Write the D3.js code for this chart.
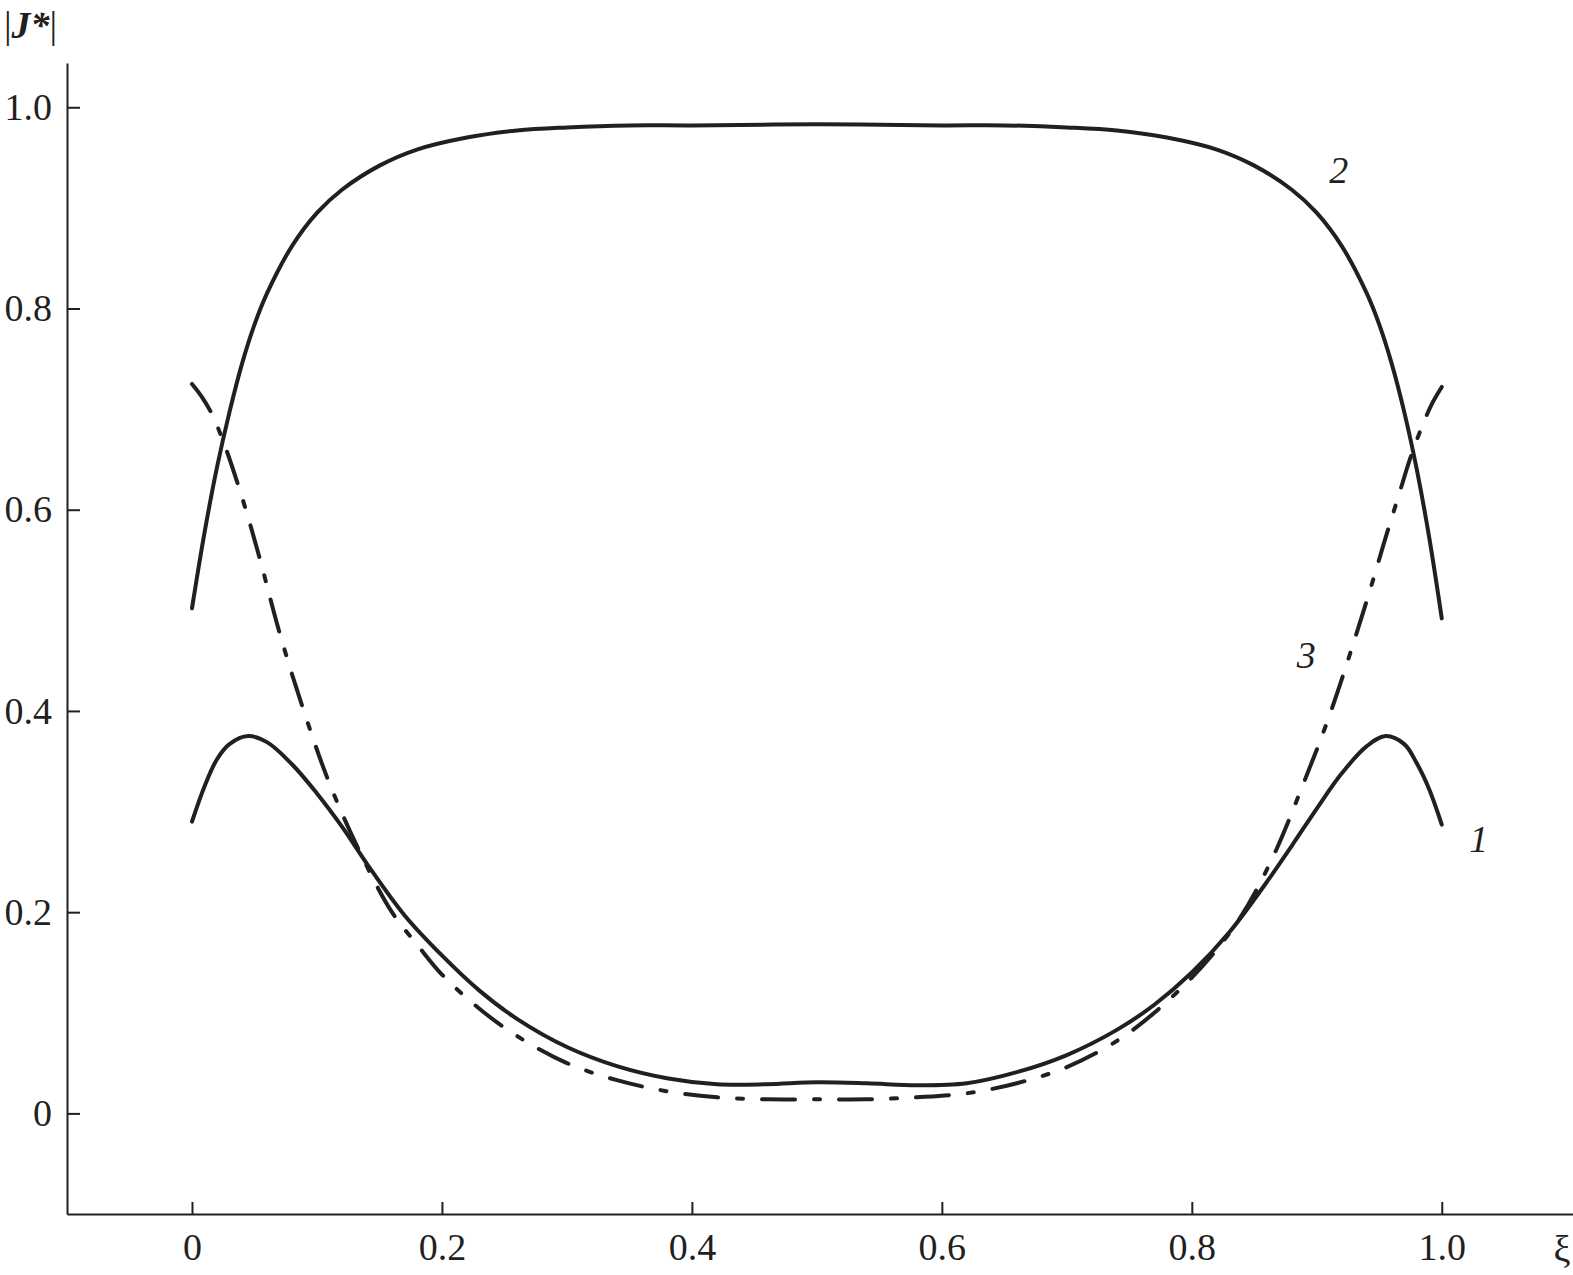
<!DOCTYPE html>
<html>
<head>
<meta charset="utf-8">
<script src="https://cdn.jsdelivr.net/npm/d3@7"></script>
<style>
  html, body { margin: 0; padding: 0; background: #fff; }
  svg { display: block; font-family: "Liberation Serif", "DejaVu Serif", serif; }
  .axis path, .axis line { stroke: #231f20; stroke-width: 2; }
  .axis text { font-size: 38px; fill: #231f20; font-family: "Liberation Serif", serif; }
  .curve { fill: none; stroke: #231f20; stroke-width: 4; stroke-linecap: round; stroke-linejoin: round; }
  .lbl { font-size: 38px; fill: #231f20; }
</style>
</head>
<body>
<svg id="chart" width="1573" height="1275"></svg>
<script>
  // Curve 1 (solid, low)
  const xi1 = [0, 0.01, 0.02, 0.03, 0.045, 0.06, 0.08, 0.10, 0.12, 0.14, 0.17, 0.20, 0.23, 0.26, 0.30,
    0.34, 0.38, 0.42, 0.46, 0.50, 0.54, 0.58, 0.62, 0.66, 0.70, 0.74, 0.77, 0.80, 0.83, 0.86,
    0.88, 0.90, 0.92, 0.94, 0.955, 0.97, 0.98, 0.99, 1.0];
  const j1 = [0.290, 0.325, 0.352, 0.367, 0.375, 0.369, 0.347, 0.318, 0.285, 0.248, 0.197, 0.157, 0.122, 0.094, 0.066,
    0.047, 0.035, 0.029, 0.029, 0.031, 0.030, 0.028, 0.030, 0.041, 0.058, 0.083, 0.108, 0.140, 0.180, 0.230,
    0.266, 0.303, 0.338, 0.365, 0.375, 0.367, 0.348, 0.322, 0.287];

  // Curve 2 (solid, high)
  const xi2 = [0, 0.01, 0.02, 0.03, 0.04, 0.05, 0.06, 0.08, 0.10, 0.12, 0.15, 0.18, 0.22, 0.26, 0.30,
    0.35, 0.40, 0.50, 0.60, 0.65, 0.70, 0.74, 0.78, 0.82, 0.85, 0.88, 0.90, 0.92, 0.94, 0.95,
    0.96, 0.97, 0.98, 0.99, 1.0];
  const j2 = [0.502, 0.577, 0.642, 0.697, 0.745, 0.784, 0.815, 0.862, 0.895, 0.918, 0.942, 0.958, 0.970, 0.977, 0.980,
    0.982, 0.982, 0.983, 0.982, 0.982, 0.980, 0.977, 0.970, 0.958, 0.942, 0.918, 0.895, 0.862, 0.815, 0.784,
    0.745, 0.697, 0.640, 0.572, 0.492];

  // Curve 3 (dash-dot)
  const xi3 = [0, 0.008, 0.016, 0.025, 0.035, 0.045, 0.055, 0.07, 0.09, 0.11, 0.135, 0.16, 0.18, 0.20, 0.23,
    0.26, 0.30, 0.34, 0.38, 0.42, 0.46, 0.50, 0.54, 0.58, 0.62, 0.66, 0.70, 0.74, 0.77, 0.80,
    0.82, 0.84, 0.865, 0.89, 0.91, 0.93, 0.945, 0.955, 0.965, 0.975, 0.984, 0.992, 1.0];
  const j3 = [0.725, 0.712, 0.695, 0.668, 0.632, 0.592, 0.548, 0.478, 0.398, 0.328, 0.258, 0.200, 0.168, 0.138, 0.104,
    0.077, 0.050, 0.033, 0.022, 0.016, 0.014, 0.014, 0.014, 0.016, 0.020, 0.030, 0.046, 0.072, 0.100, 0.135,
    0.163, 0.197, 0.255, 0.330, 0.395, 0.470, 0.530, 0.572, 0.612, 0.652, 0.682, 0.705, 0.722];

  const xTicks = [0, 0.2, 0.4, 0.6, 0.8, 1.0];
  const yTicks = [0, 0.2, 0.4, 0.6, 0.8, 1.0];

  const series = [
    { xi: xi1, j: j1, dash: null, label: "1", lx: 1.022, ly: 0.26 },
    { xi: xi2, j: j2, dash: null, label: "2", lx: 0.91, ly: 0.925 },
    { xi: xi3, j: j3, dash: "33,19,6,19", label: "3", lx: 0.884, ly: 0.443 },
  ];

  const svg = d3.select("#chart");

  const x = d3.scaleLinear().domain([-0.1, 1.105]).range([67, 1573]);
  const y = d3.scaleLinear().domain([-0.1, 1.044]).range([1214, 63]);
  const fmt = (d) => (d === 0 ? "0" : d3.format(".1f")(d));

  // axes, ticks pointing inward
  const gx = svg.append("g").attr("class", "axis")
    .attr("transform", `translate(0,${y(-0.1)})`)
    .call(d3.axisBottom(x).tickValues(xTicks).tickFormat(fmt)
      .tickSizeInner(-12).tickSizeOuter(0).tickPadding(19));
  gx.selectAll(".tick text").attr("dy", "0.71em");

  svg.append("g").attr("class", "axis")
    .attr("transform", `translate(${x(-0.1)},0)`)
    .call(d3.axisLeft(y).tickValues(yTicks).tickFormat(fmt)
      .tickSizeInner(-13).tickSizeOuter(0).tickPadding(15));

  // curves
  const line = d3.line()
    .x((d) => x(d[0]))
    .y((d) => y(d[1]))
    .curve(d3.curveCatmullRom.alpha(0.5));

  series.forEach((s) => {
    const pts = s.xi.map((v, i) => [v, s.j[i]]);
    const p = svg.append("path").attr("class", "curve").attr("d", line(pts));
    if (s.dash) p.attr("stroke-dasharray", s.dash);

    svg.append("text").attr("class", "lbl")
      .attr("x", x(s.lx)).attr("y", y(s.ly))
      .attr("font-style", "italic")
      .text(s.label);
  });

  // axis titles
  const yt = svg.append("text").attr("class", "lbl").attr("x", 4).attr("y", 38);
  yt.append("tspan").text("|");
  yt.append("tspan").attr("font-style", "italic").attr("font-weight", "bold").text("J*");
  yt.append("tspan").text("|");

  svg.append("text").attr("class", "lbl")
    .attr("x", 1562).attr("y", 1262)
    .attr("text-anchor", "middle")
    .text("ξ");
</script>
</body>
</html>
